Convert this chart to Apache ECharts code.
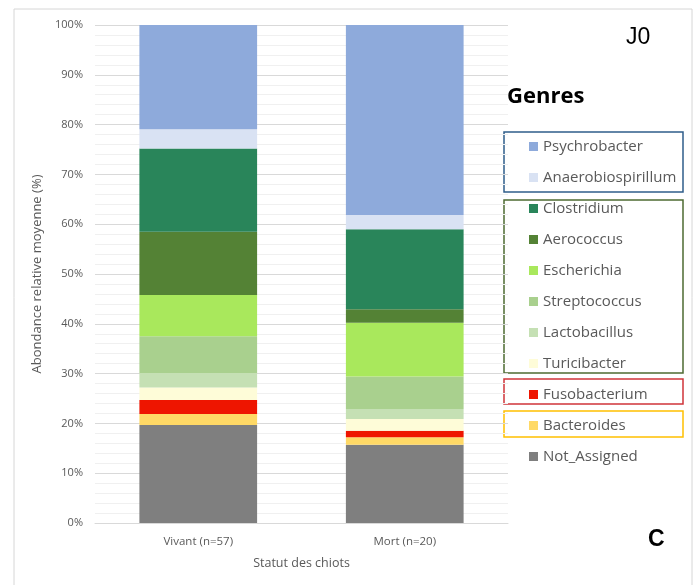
<!DOCTYPE html>
<html>
<head>
<meta charset="utf-8">
<script src="https://cdn.jsdelivr.net/npm/echarts@6/dist/echarts.min.js"></script>
<style>
  html, body { margin: 0; padding: 0; background: #fff; }
  #chart { width: 700px; height: 585px; }
</style>
</head>
<body>
<div id="chart"></div>
<script>
var categories = ['Vivant (n=57)', 'Mort (n=20)'];

// genres, bottom of the stack first
var genres = ['Not_Assigned', 'Bacteroides', 'Fusobacterium', 'Turicibacter', 'Lactobacillus',
  'Streptococcus', 'Escherichia', 'Aerococcus', 'Clostridium', 'Anaerobiospirillum', 'Psychrobacter'];

var notAssigned = [19.7, 15.7];
var bacteroides = [2.2, 1.5];
var fusobacterium = [2.8, 1.3];
var turicibacter = [2.5, 2.4];
var lactobacillus = [2.9, 2.0];
var streptococcus = [7.4, 6.5];
var escherichia = [8.3, 10.8];
var aerococcus = [12.7, 2.7];
var clostridium = [16.7, 16.1];
var anaerobiospirillum = [3.85, 2.85];
var psychrobacter = [20.95, 38.15];

var values = [notAssigned, bacteroides, fusobacterium, turicibacter, lactobacillus,
  streptococcus, escherichia, aerococcus, clostridium, anaerobiospirillum, psychrobacter];

var colors = ['#7f7f7f', '#ffd966', '#ee1500', '#fefcd8', '#c5e0b4',
  '#a9d08e', '#a9e85c', '#548235', '#29855a', '#d9e2f3', '#8eaadb'];

var font = '"Open Sans", "Liberation Sans", sans-serif';

var chart = echarts.init(document.getElementById('chart'), null, { renderer: 'canvas' });

var series = genres.map(function (g, i) {
  return {
    name: g,
    type: 'bar',
    stack: 'total',
    barWidth: '57%',
    data: values[i],
    itemStyle: { color: colors[i] }
  };
});

var option = {
  animation: false,
  backgroundColor: '#fff',
  grid: { left: 95, right: 192, top: 25, bottom: 62 },
  xAxis: {
    type: 'category',
    data: categories,
    name: 'Statut des chiots',
    nameLocation: 'middle',
    nameGap: 34,
    nameTextStyle: { color: '#595959', fontSize: 12.5, fontFamily: font },
    axisLine: { lineStyle: { color: '#d9d9d9' } },
    axisTick: { show: false },
    axisLabel: { color: '#595959', fontSize: 11.5, fontFamily: font, margin: 13 }
  },
  yAxis: {
    type: 'value',
    min: 0,
    max: 100,
    interval: 10,
    name: 'Abondance relative moyenne (%)',
    nameLocation: 'middle',
    nameGap: 47,
    nameTextStyle: { color: '#595959', fontSize: 13, fontFamily: font },
    axisLine: { show: false },
    axisTick: { show: false },
    axisLabel: { formatter: '{value}%', color: '#595959', fontSize: 11, fontFamily: font, margin: 12 },
    splitLine: { lineStyle: { color: '#d9d9d9' } },
    minorTick: { show: false, splitNumber: 5 },
    minorSplitLine: { show: true, lineStyle: { color: '#f0f0f0' } }
  },
  legend: {
    orient: 'vertical',
    left: 524,
    top: 134,
    itemWidth: 9,
    itemHeight: 9,
    itemGap: 16,
    icon: 'rect',
    data: genres.slice().reverse(),
    textStyle: { color: '#595959', fontSize: 15, fontFamily: font, lineHeight: 15 }
  },
  graphic: [
    { type: 'rect', shape: { x: 14, y: 9, width: 678, height: 600 }, style: { fill: null, stroke: '#d6d6d6', lineWidth: 1 }, z: -1 },
    { type: 'text', left: 507, top: 86, style: { text: 'Genres', font: 'bold 22px ' + font, fill: '#000' } },
    { type: 'text', left: 626, top: 26, style: { text: 'J0', font: '23px "Liberation Sans", sans-serif', fill: '#000' } },
    { type: 'text', left: 648, top: 528, style: { text: 'C', font: 'bold 23px "Liberation Sans", sans-serif', fill: '#000' } },
    { type: 'rect', shape: { x: 504, y: 132, width: 179, height: 60 }, style: { fill: null, stroke: '#2f5d8a', lineWidth: 1.5 } },
    { type: 'rect', shape: { x: 504, y: 200, width: 179, height: 173 }, style: { fill: null, stroke: '#4e6b32', lineWidth: 1.5 } },
    { type: 'rect', shape: { x: 504, y: 379, width: 179, height: 25 }, style: { fill: null, stroke: '#d0343a', lineWidth: 1.5 } },
    { type: 'rect', shape: { x: 504, y: 411, width: 179, height: 26 }, style: { fill: null, stroke: '#ffc000', lineWidth: 1.5 } }
  ],
  series: series
};

chart.setOption(option);
</script>
</body>
</html>
